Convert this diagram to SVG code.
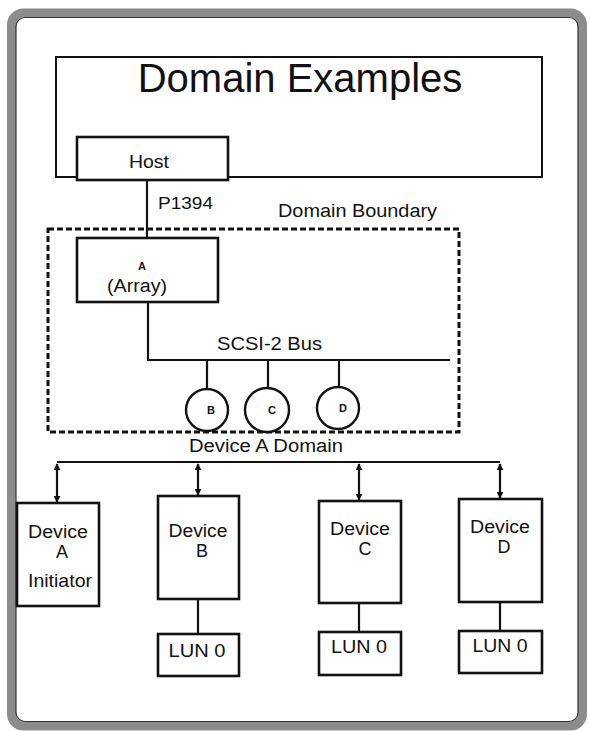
<svg xmlns="http://www.w3.org/2000/svg" width="590" height="731" viewBox="0 0 590 731">
<defs>
<marker id="ah" viewBox="0 0 10 10" refX="9" refY="5" markerWidth="7" markerHeight="7" markerUnits="userSpaceOnUse" orient="auto-start-reverse">
<path d="M0,0 L10,5 L0,10 z" fill="#111"/>
</marker>
<style>
.t{font-family:"Liberation Sans",Arial,sans-serif;fill:#111;font-size:18px;}
.m{text-anchor:middle;}
.s{font-size:11px;font-weight:bold;}
.box{fill:#fff;stroke:#111;stroke-width:2.6;}
.ln{fill:none;stroke:#111;stroke-width:2.2;}
</style>
</defs>
<rect width="590" height="731" fill="#fff"/>
<g id="frame">
<rect x="11.5" y="13" width="571" height="713" rx="12" fill="none" stroke="#8c8c8c" stroke-width="9"/>
<rect x="16" y="17.5" width="562" height="704" rx="9" fill="none" stroke="#333" stroke-width="1.2"/>
</g>
<g id="title">
<rect x="56" y="57" width="486" height="120" fill="#fff" stroke="#111" stroke-width="2"/>
<text class="t m" x="300" y="92" style="font-size:40px">Domain Examples</text>
</g>
<g id="boundary">
<rect x="48" y="229" width="411" height="203" fill="none" stroke="#111" stroke-width="3" stroke-dasharray="6,3"/>
<text class="t" x="278" y="217" textLength="159" lengthAdjust="spacingAndGlyphs">Domain Boundary</text>
</g>
<g id="connectors">
<line class="ln" x1="147" y1="180" x2="147" y2="238"/>
<polyline class="ln" points="148,302 148,360 450,360"/>
<line class="ln" x1="207" y1="360" x2="207" y2="389"/>
<line class="ln" x1="268" y1="360" x2="268" y2="389"/>
<line class="ln" x1="339" y1="360" x2="339" y2="387"/>
<line class="ln" x1="57" y1="462" x2="500" y2="462"/>
<line class="ln" x1="57" y1="464" x2="57" y2="502" marker-start="url(#ah)" marker-end="url(#ah)"/>
<line class="ln" x1="198" y1="464" x2="198" y2="495" marker-start="url(#ah)" marker-end="url(#ah)"/>
<line class="ln" x1="359" y1="464" x2="359" y2="500" marker-start="url(#ah)" marker-end="url(#ah)"/>
<line class="ln" x1="500" y1="464" x2="500" y2="498" marker-start="url(#ah)" marker-end="url(#ah)"/>
<line class="ln" x1="198" y1="599" x2="198" y2="634"/>
<line class="ln" x1="359" y1="603" x2="359" y2="632"/>
<line class="ln" x1="500" y1="602" x2="500" y2="631"/>
<text class="t" x="158" y="209" style="font-size:17px" textLength="55" lengthAdjust="spacingAndGlyphs">P1394</text>
<text class="t" x="217" y="350" textLength="105" lengthAdjust="spacingAndGlyphs">SCSI-2 Bus</text>
<text class="t" x="189" y="452" textLength="154" lengthAdjust="spacingAndGlyphs">Device A Domain</text>
</g>
<g id="host">
<rect class="box" x="77" y="137" width="151" height="43"/>
<text class="t m" x="149" y="168" textLength="40" lengthAdjust="spacingAndGlyphs">Host</text>
</g>
<g id="array">
<rect class="box" x="77" y="238" width="141" height="64"/>
<text class="t m s" x="142" y="270">A</text>
<text class="t m" x="137" y="292" textLength="60" lengthAdjust="spacingAndGlyphs">(Array)</text>
</g>
<g id="circle-b">
<circle cx="207" cy="410" r="21" fill="#fff" stroke="#111" stroke-width="2.4"/>
<text class="t m s" x="211" y="414">B</text>
</g>
<g id="circle-c">
<circle cx="267" cy="410" r="22" fill="#fff" stroke="#111" stroke-width="2.4"/>
<text class="t m s" x="272" y="414">C</text>
</g>
<g id="circle-d">
<circle cx="338" cy="408" r="21" fill="#fff" stroke="#111" stroke-width="2.4"/>
<text class="t m s" x="343" y="412">D</text>
</g>
<g id="device-a">
<rect class="box" x="17" y="503" width="82" height="103"/>
<text class="t m" x="58" y="538" textLength="60" lengthAdjust="spacingAndGlyphs">Device</text>
<text class="t m" x="62" y="558">A</text>
<text class="t m" x="60" y="587" textLength="64" lengthAdjust="spacingAndGlyphs">Initiator</text>
</g>
<g id="device-b">
<rect class="box" x="158" y="496" width="81" height="103"/>
<text class="t m" x="198" y="537" textLength="59" lengthAdjust="spacingAndGlyphs">Device</text>
<text class="t m" x="202" y="557">B</text>
</g>
<g id="lun-b">
<rect class="box" x="158" y="634" width="81" height="42"/>
<text class="t m" x="197" y="657" textLength="57" lengthAdjust="spacingAndGlyphs">LUN 0</text>
</g>
<g id="device-c">
<rect class="box" x="319" y="501" width="82" height="102"/>
<text class="t m" x="360" y="535" textLength="60" lengthAdjust="spacingAndGlyphs">Device</text>
<text class="t m" x="365" y="555">C</text>
</g>
<g id="lun-c">
<rect class="box" x="319" y="632" width="82" height="43"/>
<text class="t m" x="359" y="653" textLength="56" lengthAdjust="spacingAndGlyphs">LUN 0</text>
</g>
<g id="device-d">
<rect class="box" x="459" y="499" width="83" height="103"/>
<text class="t m" x="500" y="533" textLength="60" lengthAdjust="spacingAndGlyphs">Device</text>
<text class="t m" x="504" y="553">D</text>
</g>
<g id="lun-d">
<rect class="box" x="459" y="631" width="83" height="42"/>
<text class="t m" x="500" y="652" textLength="55" lengthAdjust="spacingAndGlyphs">LUN 0</text>
</g>
</svg>
